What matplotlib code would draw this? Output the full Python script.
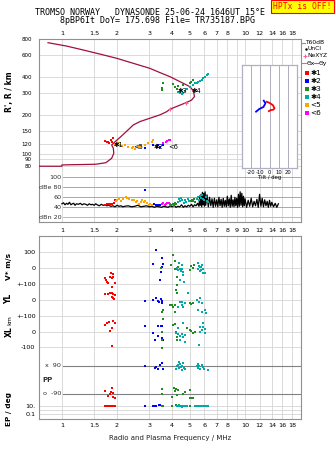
import matplotlib
matplotlib.use('Agg')
import matplotlib.pyplot as plt
from matplotlib.ticker import NullLocator
import numpy as np

# ---------------- data ----------------
freq_ticks = [1, 1.5, 2, 3, 4, 5, 6, 7, 8, 10, 12, 14, 16, 18]
freq_labels = ['1', '1.5', '2', '3', '4', '5', '6', '7', '8', '10', '12', '14', '16', '18']
freq_ticks_mid = [1, 1.5, 2, 3, 4, 5, 6, 7, 8, 9, 10, 12, 14, 16, 18]
freq_labels_mid = ['1', '1.5', '2', '3', '4', '5', '6', '7', '8', '9', '10', '12', '14', '16', '18']
height_ticks = [80, 90, 100, 120, 150, 200, 300, 400, 600, 800]

prof_f = [0.75, 1.0, 1.0, 1.53, 1.74, 1.87, 1.92, 1.91, 1.87, 1.95, 2.12, 2.30, 2.45, 2.67, 3.02,
          3.43, 3.73, 3.89, 4.76, 5.1, 5.3, 5.21, 5.0, 4.41, 3.89, 3.43, 3.02, 2.45, 1.99, 1.61,
          1.31, 1.06, 0.84]
prof_h = [79.6, 79.6, 81.5, 82.5, 84.9, 92, 100.6, 110, 117, 124, 138, 154, 168, 179, 190,
          202, 214, 224, 252, 264, 282, 313, 337, 369, 404, 435, 470, 515, 564, 609,
          655, 704, 748]
nexyz_f = [3.89, 4.76]
nexyz_h = [224, 252]

ion_red_f = [1.72, 1.77, 1.79, 1.81, 1.85, 1.89, 1.87]
ion_red_h = [126, 123, 124, 121, 129, 132, 123]
ion_orange_f = [1.95, 1.99, 2.03, 2.07, 2.14, 2.21, 2.30, 2.40, 2.45, 2.50, 2.61, 2.67, 2.72, 2.84,
                2.96, 3.09, 3.15]
ion_orange_h = [117, 119, 121, 117, 115, 117, 113, 110, 112, 108, 112, 113, 115, 117, 121, 124, 128]
ion_blue_f = [2.84, 3.15, 3.29, 3.36, 3.43, 3.57]
ion_blue_h = [111, 117, 113, 117, 113, 117]
ion_magenta_f = [3.57, 3.68, 3.77, 3.82, 3.89]
ion_magenta_h = [121, 123, 125, 128, 128]
ion_green_f = [3.55, 3.50, 3.50, 4.06, 4.14, 4.23, 4.32, 4.6, 5.0, 5.1, 5.21]
ion_green_h = [362, 327, 317, 353, 337, 322, 342, 347, 358, 369, 380]
ion_cyan_f = [4.32, 4.42, 4.51, 4.6, 4.7, 4.8, 5.0, 5.21, 5.33, 5.45, 5.56, 5.67, 5.8, 5.9, 6.04,
              6.16, 6.28]
ion_cyan_h = [307, 300, 295, 302, 313, 321, 333, 347, 358, 362, 369, 375, 380, 393, 404, 417, 422]

echo_labels = ['\u27311', '<5', '\u27312', '<6', '\u27313', '\u27314']
echo_label_f = [1.92, 2.45, 3.18, 3.80, 4.30, 5.10]
echo_label_h = [117, 112, 112, 112, 310, 310]
legend_labels = ['\u27311', '\u27312', '\u27313', '\u27314', '<5', '<6']

tilt_red_deg = [-2.9, 0.0, 3.6, 5.4, 4.3, 1.1, -0.7]
tilt_red_h = [256, 251, 241, 228, 222, 220, 216]
tilt_blue_deg = [-6.2, -4.3, -6.5, -10.9, -14.5]
tilt_blue_h = [261, 250, 233, 225, 214]

t60_f = [1.00, 1.02, 1.04, 1.06, 1.08, 1.10, 1.12, 1.14, 1.16, 1.18, 1.20, 1.23, 1.26, 1.29, 1.32,
         1.35, 1.38, 1.41, 1.44, 1.47, 1.50, 1.53, 1.56, 1.60, 1.64, 1.68, 1.72,
         1.76, 1.80, 1.85, 1.90, 1.95, 2.0, 2.05, 2.1, 2.15, 2.2, 2.3, 2.4, 2.5, 2.6, 2.7, 2.8,
         2.9, 3.0, 3.1, 3.2, 3.3, 3.4,
         3.5, 3.6, 3.7, 3.8, 3.9, 4.0, 4.1, 4.2, 4.3, 4.4, 4.5, 4.6, 4.7, 4.8, 4.9, 5.0, 5.1,
         5.2, 5.3, 5.4, 5.5,
         5.6, 5.65, 5.7, 5.75, 5.8, 5.85, 5.9, 5.95, 6.0, 6.05, 6.1, 6.2, 6.3, 6.4, 6.5, 6.6,
         6.7, 6.8, 6.9, 7.0, 7.1, 7.2, 7.3, 7.4, 7.5, 7.6, 7.7, 7.8, 7.9, 8.0, 8.1, 8.2, 8.3,
         8.4, 8.5, 8.6, 8.7, 8.8, 8.9, 9.0, 9.1, 9.2, 9.3, 9.4, 9.5, 9.6, 9.7, 9.8, 9.9, 10.0,
         10.2, 10.4, 10.6, 10.8, 11.0, 11.2, 11.4, 11.6, 11.8, 12.0, 12.2, 12.4, 12.6, 12.8,
         13.0, 13.2, 13.4, 13.6, 13.8, 14.0, 14.3, 14.6, 14.9, 15.2]
t60_db = [47, 49, 45, 48, 46, 50, 45, 47, 48, 44, 47, 46, 48, 45, 47,
          46, 44, 47, 45, 46, 44, 47, 45, 43, 46, 44, 45,
          43, 44, 42, 43, 41, 44, 42, 43, 41, 42, 43, 41, 42, 44, 41, 42,
          43, 41, 42, 40, 42, 41,
          40, 42, 41, 40, 43, 41, 44, 40, 42, 41, 45, 40, 43, 41, 44, 42, 46,
          41, 45, 43, 48,
          42, 62, 44, 66, 41, 70, 45, 68, 42, 71, 44, 65, 41, 60, 43, 57,
          40, 58, 42, 55, 41, 60, 43, 56, 40, 58, 42, 54, 41, 62, 43, 57, 40,
          64, 42, 55, 41, 60, 43, 58, 40, 66, 42, 71, 44, 68, 41, 62, 43, 57,
          40, 54, 42, 58, 41, 52, 43, 56, 40, 66, 42, 58, 41, 55,
          43, 52, 40, 54, 42, 50, 41, 48, 40, 47]

db_red_f = [1.73, 1.77, 1.80, 1.84, 1.88, 1.92, 1.95]
db_red = [45, 46, 47, 46, 47, 48, 54]
db_orange_f = [1.97, 2.01, 2.05, 2.09, 2.15, 2.23, 2.28, 2.32, 2.40, 2.47, 2.53, 2.58, 2.63, 2.70,
               2.75, 2.81, 2.86, 2.92, 2.98, 3.04, 3.1]
db_orange = [52, 55, 57, 53, 56, 61, 58, 56, 55, 54, 50, 52, 47, 50, 54, 51, 52, 48, 45, 47, 44]
db_blue_f = [2.84, 3.18, 3.25, 3.3, 3.36, 3.42]
db_blue = [74, 46, 44, 45, 44, 45]
db_magenta_f = [3.52, 3.58, 3.64, 3.7, 3.76, 3.82, 3.88]
db_magenta = [46, 48, 45, 47, 49, 48, 46]
db_green_f = [3.95, 4.02, 4.08, 4.15, 4.22, 5.05, 5.12, 5.2, 5.28, 5.35]
db_green = [44, 47, 45, 48, 46, 52, 55, 53, 56, 51]
db_cyan_f = [4.3, 4.36, 4.42, 4.48, 4.55, 4.62, 4.7, 4.78, 4.86, 4.95, 5.45, 5.52, 5.6, 5.68,
             5.76, 5.84, 5.92, 6.0, 6.1, 6.2, 6.3]
db_cyan = [50, 56, 52, 58, 54, 49, 55, 51, 57, 53, 56, 60, 54, 62, 58, 64, 57, 55, 60, 53, 51]

# bottom panel: V* (m/s), YL, XL (km), PP (deg), EP (deg)
red_V_f = [1.85, 1.89, 1.83, 1.87, 1.91, 1.72, 1.77, 1.79, 1.95, 1.875, 1.74]
red_V = [-29, -40, -58, -60, -58, -60, -90, -96, -92, -117, -75]
red_YL_f = [1.725, 1.79, 1.83, 1.87, 1.91, 1.95, 1.875, 1.92, 1.89]
red_YL = [35, 37, 42, 46, 35, 31, 21, 6, 10]
red_XL_f = [1.725, 1.76, 1.81, 1.89, 1.95, 1.875, 1.83, 1.87]
red_XL = [46, 54, 63, 71, 58, 27, 8, -88]
red_PP_f = [1.725, 1.87, 1.85, 1.91, 1.79, 1.83, 1.95, 1.89]
red_PP = [-71, -55, -77, -88, -105, -94, -120, -109]
red_EP_f = [1.72, 1.75, 1.78, 1.80, 1.83, 1.86, 1.88, 1.90, 1.93, 1.95]
red_EP = [14, 14, 14, 14, 14, 14, 12, 12, 10, 9]

blue_V_f = [3.25, 3.53, 3.15, 3.55, 3.50, 3.43, 3.48]
blue_V = [112, 60, 23, 25, 8, -75, -23]
blue_YL_f = [2.86, 3.15, 3.26, 3.36, 3.40, 3.46, 3.53, 3.50]
blue_YL = [-6, 0, 10, -4, -10, 4, -4, -17]
blue_XL_f = [2.84, 3.36, 3.46, 3.50, 3.15, 3.22, 3.36, 3.50, 3.55]
blue_XL = [35, 35, 35, 35, -4, -50, -25, -40, -50]
blue_PP_f = [2.84, 3.22, 3.36, 3.43, 3.50, 3.55, 3.28]
blue_PP = [90, 73, 67, 94, 105, 67, 84]
blue_EP_f = [2.84, 3.13, 3.2, 3.28, 3.38, 3.45, 3.5]
blue_EP = [14, 14, 14, 14, 16, 18, 14]

green_V_f = [3.49, 4.06, 4.14, 3.94, 4.32, 4.14, 5.1, 5.0, 5.2, 4.27, 4.2, 4.4, 5.26]
green_V = [-2, 81, 46, 19, 8, -8, 12, -12, -2, -58, -8, -8, 19]
green_YL_f = [4.27, 4.2, 4.27, 4.14, 3.97, 5.0, 5.1, 3.55, 3.89, 4.06, 4.14, 5.2, 3.5]
green_YL = [94, 62, 42, -31, -31, -17, -25, -62, -31, -42, -73, -19, -73]
green_XL_f = [3.55, 3.50, 3.50, 3.50, 4.06, 4.14, 4.2, 4.27, 4.23, 5.0, 5.1, 5.2, 5.33, 4.8]
green_XL = [79, 0, -50, -98, 44, 50, 0, -50, -29, 12, 6, -6, 0, 23]
green_PP_f = [3.50, 3.50, 4.1, 4.15, 4.2, 4.25, 4.3, 4.6, 4.7, 5.0, 5.1, 5.2, 5.0, 3.97]
green_PP = [-60, -94, -53, -75, -60, -98, -66, -92, -77, -116, -116, -116, -66, -109]
green_EP_f = [3.5, 3.55, 3.97, 4.2, 4.3, 4.6, 4.7, 5.0, 5.4]
green_EP = [12, 14, 14, 16, 14, 14, 14, 14, 14]

cyan_V_f = [4.27, 4.33, 4.40, 4.46, 4.52, 4.6, 4.38, 4.5, 4.6, 4.42, 4.65, 5.56, 5.62, 5.68,
            5.74, 5.8, 5.86, 5.9, 5.65, 5.75, 6.04, 5.5]
cyan_V = [-2, -12, -8, -20, -5, -23, 29, 19, -44, -75, -85, 29, 15, 5, -10, 20, -5, -33, -20, 8,
          -33, -8]
cyan_YL_f = [4.9, 4.42, 4.5, 4.6, 4.7, 4.32, 5.45, 5.6, 5.8, 5.56, 5.8, 6.04, 6.15, 4.55, 5.7]
cyan_YL = [46, -10, -31, -42, -21, -42, 0, -10, -21, -62, -73, -62, -79, -15, 10]
cyan_XL_f = [4.2, 4.3, 4.4, 4.5, 4.6, 4.7, 4.32, 4.6, 4.42, 4.7, 5.8, 5.9, 6.04, 5.65, 5.9, 6.04,
             5.6, 5.65]
cyan_XL = [-8, -15, -22, -12, -29, -20, 23, 54, -50, -60, 12, 33, -8, 2, 54, 20, -81, 33]
cyan_PP_f = [4.2, 4.25, 4.3, 4.35, 4.4, 4.45, 4.5, 4.55, 4.6, 4.65, 4.7, 5.45, 5.5, 5.55, 5.6,
             5.7, 5.8, 5.9, 6.0, 6.3, 4.38, 4.5]
cyan_PP = [70, 85, 95, 75, 100, 80, 65, 90, 110, 75, 68, 90, 78, 100, 85, 70, 95, 80, 68, 62,
           115, 60]
cyan_EP_f = [4.25, 4.3, 4.35, 4.4, 4.45, 4.5, 4.55, 4.6, 4.65, 4.7, 4.75, 4.8, 5.3, 5.4, 5.5,
             5.55, 5.6, 5.65, 5.7, 5.8, 5.9, 6.0, 6.1, 6.3]
cyan_EP = [14, 12, 16, 10, 14, 12, 8, 14, 12, 14, 10, 12, 14, 12, 14, 10, 12, 14, 10, 12, 14,
           10, 12, 14]

# ---------------- style ----------------
C_RED, C_BLUE, C_GREEN, C_CYAN = '#ff0000', '#0000ff', '#1e8c1e', '#00aaaa'
C_ORANGE, C_MAG, C_PROF = '#ffa500', '#ff00ff', '#a0103a'
GRID = '#d4d4d4'
FRAME = '#909090'
FS_TICK = 4.6
plt.rcParams['font.family'] = ['DejaVu Sans']

W, H = 335, 451
fig = plt.figure(figsize=(W / 100, H / 100), dpi=100)


def rect(x0, y0, x1, y1):
    return [x0 / W, 1 - y1 / H, (x1 - x0) / W, (y1 - y0) / H]


def style_freq_axis(ax):
    ax.set_xscale('log')
    ax.set_xlim(0.75, 20.2)
    ax.xaxis.set_minor_locator(NullLocator())
    ax.yaxis.set_minor_locator(NullLocator())
    for s in ax.spines.values():
        s.set_color(FRAME)
        s.set_linewidth(0.8)
    for t in freq_ticks_mid:
        ax.axvline(t, color=GRID, lw=0.6, zorder=0)


ms = 1.9

# ---------- ionogram ----------
ax = fig.add_axes(rect(39, 39, 301, 171))
style_freq_axis(ax)
ax.set_yscale('log')
ax.set_ylim(73, 800)
ax.yaxis.set_minor_locator(NullLocator())
ax.set_xticks(freq_ticks)
ax.set_xticklabels(freq_labels)
ax.xaxis.tick_top()
ax.tick_params(axis='x', length=0, pad=2.2, labelsize=FS_TICK)
ax.set_yticks(height_ticks)
ax.set_yticklabels([str(v) for v in height_ticks])
ax.tick_params(axis='y', length=0, pad=5, labelsize=4.0)
ax.spines['bottom'].set_visible(False)
for h in height_ticks:
    ax.axhline(h, color=GRID, lw=0.6, zorder=0)
ax.plot(prof_f, prof_h, color=C_PROF, lw=0.9, zorder=3)
ax.plot(nexyz_f, nexyz_h, '+', color='#ff5fa0', ms=3.5, mew=0.8, zorder=4)
for fx, hx, c in [(ion_red_f, ion_red_h, C_RED), (ion_orange_f, ion_orange_h, C_ORANGE),
                  (ion_blue_f, ion_blue_h, C_BLUE), (ion_magenta_f, ion_magenta_h, C_MAG),
                  (ion_green_f, ion_green_h, C_GREEN), (ion_cyan_f, ion_cyan_h, C_CYAN)]:
    ax.plot(fx, hx, 's', color=c, ms=ms, mew=0, zorder=5)
for lab, fx, hx in zip(echo_labels, echo_label_f, echo_label_h):
    ax.text(fx, hx, lab, fontsize=4.8, color='black', ha='left', va='center', zorder=6)
ax.set_ylabel("R', R / km", fontsize=5.5, fontweight='bold', labelpad=3)
ax.yaxis.set_label_coords(-25 / 262, 0.6)

# ---------- dB panel ----------
axd = fig.add_axes(rect(39, 171, 301, 222))
style_freq_axis(axd)
axd.set_ylim(10.6, 112.6)
axd.set_yticks([])
axd.set_xticks(freq_ticks_mid)
axd.set_xticklabels(freq_labels_mid)
axd.tick_params(axis='x', length=0, pad=4.5, labelsize=FS_TICK)
axd.spines['top'].set_visible(False)
for v, lab in [(100, '100'), (80, 'dBe 80'), (60, '60'), (40, '40'), (20, 'dBn 20')]:
    col = '#b4b4e6' if v == 20 else '#a8a8a8'
    axd.axhline(v, xmin=0.092, xmax=1, color=col, lw=0.7, zorder=1)
    axd.text(0.085, v, lab, transform=axd.get_yaxis_transform(), ha='right', va='center',
             fontsize=FS_TICK, color='#303030')
axd.plot(t60_f, t60_db, color='black', lw=0.9, zorder=3)
for fx, dx, c in [(db_red_f, db_red, C_RED), (db_orange_f, db_orange, C_ORANGE),
                  (db_blue_f, db_blue, C_BLUE), (db_magenta_f, db_magenta, C_MAG),
                  (db_green_f, db_green, C_GREEN), (db_cyan_f, db_cyan, C_CYAN)]:
    axd.plot(fx, dx, 's', color=c, ms=ms, mew=0, zorder=4)

# ---------- bottom panel ----------
axb = fig.add_axes(rect(39, 236, 301, 419))
style_freq_axis(axb)
axb.set_ylim(0, 183)
axb.set_xticks(freq_ticks)
axb.set_xticklabels(freq_labels)
axb.tick_params(axis='x', length=0, pad=3, labelsize=FS_TICK)
V0, YL0, XL0, PP0, EP0 = 151, 119, 87, 39.3, 8.7
KM = 16 / 100.0
DEG = 14 / 90.0
ytick_pos = [167, 151, 135, 119, 103, 87, 71.7, 12.7, 4.7]
ytick_lab = ['100', '0', '+-100', '0', '+-100', '0', '-100', '10.', '0.1']
axb.set_yticks(ytick_pos)
axb.set_yticklabels(ytick_lab)
axb.tick_params(axis='y', length=0, pad=2.5, labelsize=FS_TICK)
for p in ytick_pos + [EP0]:
    axb.axhline(p, color=GRID, lw=0.6, zorder=0)
for p, lab in [(PP0 + 90 * DEG, 'x  90'), (PP0 - 90 * DEG, 'o  -90')]:
    axb.axhline(p, xmin=0.092, xmax=1, color='#808080', lw=0.8, zorder=1)
    axb.text(0.085, p, lab, transform=axb.get_yaxis_transform(), ha='right', va='center',
             fontsize=FS_TICK, color='#303030')
axb.text(0.012, PP0, 'PP', transform=axb.get_yaxis_transform(), ha='left', va='center',
         fontsize=5, fontweight='bold', color='#303030')

groups = [
    (C_RED, red_V_f, red_V, red_YL_f, red_YL, red_XL_f, red_XL, red_PP_f, red_PP, red_EP_f, red_EP),
    (C_BLUE, blue_V_f, blue_V, blue_YL_f, blue_YL, blue_XL_f, blue_XL, blue_PP_f, blue_PP,
     blue_EP_f, blue_EP),
    (C_GREEN, green_V_f, green_V, green_YL_f, green_YL, green_XL_f, green_XL, green_PP_f, green_PP,
     green_EP_f, green_EP),
    (C_CYAN, cyan_V_f, cyan_V, cyan_YL_f, cyan_YL, cyan_XL_f, cyan_XL, cyan_PP_f, cyan_PP,
     cyan_EP_f, cyan_EP),
]
for c, vf, v, yf, y, xf, x, pf, p, ef, e in groups:
    axb.plot(vf, V0 + np.array(v) * KM, 's', color=c, ms=ms, mew=0, zorder=4)
    axb.plot(yf, YL0 + np.array(y) * KM, 's', color=c, ms=ms, mew=0, zorder=4)
    axb.plot(xf, XL0 + np.array(x) * KM, 's', color=c, ms=ms, mew=0, zorder=4)
    axb.plot(pf, PP0 + np.array(p) * DEG, 's', color=c, ms=ms, mew=0, zorder=4)
    axb.plot(ef, EP0 + 4 * np.log10(e), 's', color=c, ms=ms, mew=0, zorder=4)
axb.set_xlabel('Radio and Plasma Frequency / MHz', fontsize=5, labelpad=5, color='#202020')

# left labels of bottom panel
fig.text(9 / W, 1 - 267 / H, 'V* m/s', rotation=90, fontsize=5.3, fontweight='bold',
         ha='center', va='center')
fig.text(9 / W, 1 - 299 / H, 'YL', rotation=90, fontsize=5.5, fontweight='bold',
         ha='center', va='center')
fig.text(10 / W, 1 - 320 / H, 'km', rotation=90, fontsize=4.5, ha='center', va='center')
fig.text(9 / W, 1 - 332 / H, 'XL', rotation=90, fontsize=5.5, fontweight='bold',
         ha='center', va='center')
fig.text(9 / W, 1 - 409 / H, 'EP / deg', rotation=90, fontsize=5.3, fontweight='bold',
         ha='center', va='center')

# ---------- tilt inset ----------
axt = fig.add_axes(rect(241.7, 65, 297.3, 168.3))
axt.set_facecolor('white')
axt.set_xlim(-30, 30)
axt.set_yscale('log')
axt.set_ylim(76.6, 499)
axt.yaxis.set_minor_locator(NullLocator())
axt.set_yticks([])
axt.set_xticks([-20, -10, 0, 10, 20])
axt.set_xticklabels(['-20', '-10', '0', '10', '20'])
axt.tick_params(axis='x', length=0, pad=1, labelsize=3.8)
for t in [-20, -10, 0, 10, 20]:
    axt.axvline(t, color='#a0a0b4', lw=0.6, zorder=0)
for s in axt.spines.values():
    s.set_color('#b0b0c4')
    s.set_linewidth(0.9)
axt.plot(tilt_red_deg, tilt_red_h, color=C_RED, lw=1.3)
axt.plot(tilt_blue_deg, tilt_blue_h, color=C_BLUE, lw=1.3)
axt.set_xlabel('Tilt / deg', fontsize=3.8, labelpad=0.5)

# ---------- legend (right column) ----------
axl = fig.add_axes(rect(301, 36, 335, 118))
axl.set_xlim(301, 335)
axl.set_ylim(118, 36)
axl.axis('off')
lfs = 4.3
axl.plot([302, 305], [42.7, 42.7], color='#909090', lw=0.8)
axl.text(305.5, 42.7, 'T60dB', fontsize=lfs, va='center', ha='left')
axl.plot([305.5], [48.6], '.', color='black', ms=1.5)
axl.text(308, 48.6, 'UnCl', fontsize=lfs, va='center', ha='left')
axl.plot([304.5], [55.7], '+', color='#ff5fa0', ms=3.5, mew=0.8)
axl.text(307, 55.7, 'NeXYZ', fontsize=lfs, va='center', ha='left')
axl.plot([302, 306], [63.3, 63.3], color='#e07070', lw=0.8)
axl.text(306.5, 63.3, '\u0398x', fontsize=lfs, va='center', ha='left')
axl.plot([313.5, 318], [63.3, 63.3], color='#7070e0', lw=0.8)
axl.text(318.5, 63.3, '\u0398y', fontsize=lfs, va='center', ha='left')
leg_cols = [C_RED, C_BLUE, C_GREEN, C_CYAN, C_ORANGE, C_MAG]
leg_y = [72.7, 80.7, 89.0, 96.7, 105.0, 113.0]
for c, yy, lab in zip(leg_cols, leg_y, legend_labels):
    axl.plot([307.3], [yy], 's', color=c, ms=2.3, mew=0)
    axl.text(310.5, yy, lab, fontsize=5.3, va='center', ha='left')

# ---------- title ----------
fig.text(35 / W, 1 - 12.3 / H, 'TROMSO NORWAY   DYNASONDE 25-06-24 1646UT 15\u00b0E',
         family='DejaVu Sans Mono', fontsize=6.0, ha='left', va='center')
fig.text(60 / W, 1 - 20.7 / H, '8pBP6It DoY= 175.698 File= TR735187.BPG',
         family='DejaVu Sans Mono', fontsize=6.0, ha='left', va='center')
fig.text(302.5 / W, 1 - 6.8 / H, 'HPTx is OFF!', family='DejaVu Sans Mono', fontsize=5.8,
         color='#ff0000', ha='center', va='center',
         bbox=dict(boxstyle='square,pad=0.25', facecolor='#ffff00', edgecolor='#ff0000', lw=0.8))

fig.savefig('out.png', dpi=100)
